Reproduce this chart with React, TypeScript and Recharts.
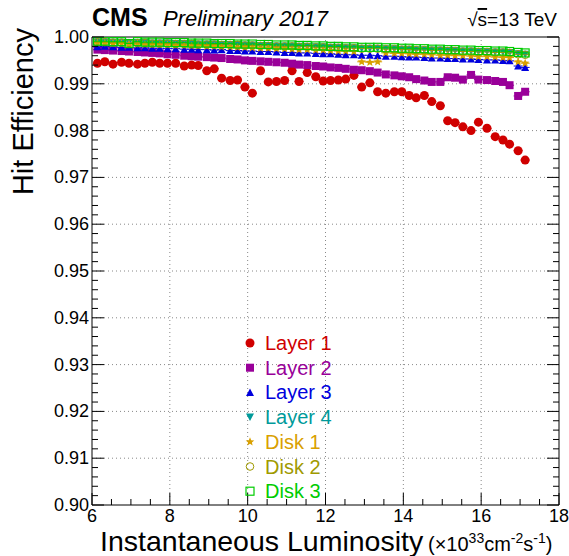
import { ScatterChart, Scatter, XAxis, YAxis, ReferenceLine } from 'recharts'

// luminosity bins (x 10^33 cm^-2 s^-1)
const lumi = [
  6.14, 6.33, 6.54, 6.76, 6.95, 7.17, 7.36, 7.55, 7.74, 7.94,
  8.15, 8.37, 8.56, 8.73, 8.95, 9.14, 9.33, 9.55, 9.74, 9.93,
  10.12, 10.33, 10.53, 10.74, 10.95, 11.14, 11.32, 11.53, 11.75, 11.94,
  12.13, 12.33, 12.52, 12.73, 12.93, 13.14, 13.34, 13.55, 13.77, 13.96,
  14.15, 14.33, 14.54, 14.73, 14.95, 15.14, 15.33, 15.53, 15.74, 15.93,
  16.15, 16.36, 16.56, 16.73, 16.95, 17.13,
]

const layer1 = [
  0.9944, 0.9947, 0.9942, 0.9946, 0.9944, 0.9942, 0.9944, 0.9946, 0.9944, 0.9944,
  0.9944, 0.9938, 0.9940, 0.9939, 0.9928, 0.9932, 0.9912, 0.9907, 0.9908, 0.9893,
  0.9880, 0.9928, 0.9904, 0.9905, 0.9907, 0.9928, 0.9905, 0.9924, 0.9915, 0.9906,
  0.9907, 0.9908, 0.9910, 0.9918, 0.9893, 0.9902, 0.9883, 0.9880, 0.9883, 0.9883,
  0.9875, 0.9870, 0.9875, 0.9862, 0.9853, 0.9821, 0.9817, 0.9808, 0.9800, 0.9818,
  0.9805, 0.9787, 0.9780, 0.9771, 0.9757, 0.9737,
]

const layer2 = [
  0.9973, 0.9972, 0.9971, 0.9970, 0.9969, 0.9968, 0.9967, 0.9966, 0.9965, 0.9963,
  0.9962, 0.9960, 0.9959, 0.9958, 0.9957, 0.9956, 0.9955, 0.9953, 0.9952, 0.9950,
  0.9949, 0.9948, 0.9947, 0.9946, 0.9945, 0.9943, 0.9941, 0.9940, 0.9938, 0.9937,
  0.9935, 0.9934, 0.9932, 0.9930, 0.9929, 0.9927, 0.9924, 0.9920, 0.9918, 0.9916,
  0.9914, 0.9910, 0.9907, 0.9904, 0.9904, 0.9914, 0.9913, 0.9909, 0.9919, 0.9909,
  0.9908, 0.9906, 0.9904, 0.9897, 0.9874, 0.9883,
]

const layer3 = [
  0.9979, 0.9980, 0.9979, 0.9978, 0.9978, 0.9977, 0.9977, 0.9976, 0.9976, 0.9975,
  0.9975, 0.9974, 0.9974, 0.9973, 0.9973, 0.9972, 0.9973, 0.9971, 0.9971, 0.9970,
  0.9970, 0.9969, 0.9969, 0.9968, 0.9967, 0.9967, 0.9966, 0.9966, 0.9965, 0.9964,
  0.9964, 0.9963, 0.9962, 0.9962, 0.9961, 0.9961, 0.9960, 0.9959, 0.9959, 0.9958,
  0.9957, 0.9957, 0.9956, 0.9955, 0.9955, 0.9954, 0.9954, 0.9953, 0.9953, 0.9952,
  0.9951, 0.9951, 0.9950, 0.9949, 0.9938, 0.9935,
]

const layer4 = [
  0.9990, 0.9990, 0.9989, 0.9989, 0.9988, 0.9988, 0.9988, 0.9987, 0.9987, 0.9987,
  0.9986, 0.9986, 0.9986, 0.9985, 0.9985, 0.9985, 0.9984, 0.9984, 0.9984, 0.9983,
  0.9983, 0.9982, 0.9982, 0.9981, 0.9981, 0.9981, 0.9980, 0.9980, 0.9979, 0.9979,
  0.9978, 0.9978, 0.9977, 0.9977, 0.9976, 0.9976, 0.9976, 0.9975, 0.9975, 0.9974,
  0.9974, 0.9973, 0.9973, 0.9972, 0.9972, 0.9971, 0.9971, 0.9970, 0.9970, 0.9969,
  0.9969, 0.9968, 0.9968, 0.9967, 0.9964, 0.9963,
]

const disk1 = [
  0.9987, 0.9987, 0.9986, 0.9986, 0.9985, 0.9985, 0.9984, 0.9984, 0.9983, 0.9983,
  0.9982, 0.9982, 0.9981, 0.9981, 0.9980, 0.9980, 0.9979, 0.9979, 0.9978, 0.9978,
  0.9977, 0.9976, 0.9976, 0.9975, 0.9975, 0.9974, 0.9973, 0.9973, 0.9972, 0.9972,
  0.9971, 0.9970, 0.9970, 0.9969, 0.9947, 0.9946, 0.9947, 0.9966, 0.9965, 0.9965,
  0.9964, 0.9963, 0.9963, 0.9962, 0.9961, 0.9961, 0.9960, 0.9960, 0.9959, 0.9958,
  0.9958, 0.9957, 0.9956, 0.9956, 0.9947, 0.9944,
]

const disk2 = [
  0.9989, 0.9989, 0.9988, 0.9988, 0.9987, 0.9987, 0.9987, 0.9986, 0.9986, 0.9986,
  0.9985, 0.9985, 0.9985, 0.9984, 0.9984, 0.9984, 0.9983, 0.9983, 0.9983, 0.9982,
  0.9982, 0.9981, 0.9981, 0.9980, 0.9980, 0.9980, 0.9979, 0.9979, 0.9978, 0.9978,
  0.9977, 0.9977, 0.9976, 0.9976, 0.9975, 0.9975, 0.9975, 0.9974, 0.9974, 0.9973,
  0.9973, 0.9972, 0.9972, 0.9971, 0.9971, 0.9970, 0.9970, 0.9969, 0.9969, 0.9968,
  0.9968, 0.9967, 0.9967, 0.9966, 0.9963, 0.9962,
]

const disk3 = [
  0.9991, 0.9991, 0.9990, 0.9990, 0.9986, 0.9990, 0.9989, 0.9989, 0.9989, 0.9988,
  0.9988, 0.9988, 0.9987, 0.9987, 0.9987, 0.9986, 0.9986, 0.9986, 0.9985, 0.9985,
  0.9985, 0.9984, 0.9984, 0.9983, 0.9983, 0.9983, 0.9982, 0.9982, 0.9981, 0.9981,
  0.9980, 0.9980, 0.9979, 0.9979, 0.9978, 0.9978, 0.9978, 0.9977, 0.9977, 0.9976,
  0.9976, 0.9975, 0.9975, 0.9974, 0.9974, 0.9973, 0.9973, 0.9972, 0.9972, 0.9971,
  0.9971, 0.9970, 0.9970, 0.9969, 0.9967, 0.9966,
]

const seriesNames = ['Layer 1', 'Layer 2', 'Layer 3', 'Layer 4', 'Disk 1', 'Disk 2', 'Disk 3']

const xMajor = [6, 8, 10, 12, 14, 16, 18]
const yMajor = [0.9, 0.91, 0.92, 0.93, 0.94, 0.95, 0.96, 0.97, 0.98, 0.99, 1.0]

// minor ticks: 4 per x major interval, 5 per y major interval
const xTicks: number[] = []
xMajor.forEach((v, i) => {
  if (i === 0) { xTicks.push(v); return }
  const p = xMajor[i - 1]
  for (let k = 1; k <= 4; k++) xTicks.push(p + ((v - p) * k) / 4)
})
const yTicks: number[] = []
yMajor.forEach((v, i) => {
  if (i === 0) { yTicks.push(v); return }
  const p = yMajor[i - 1]
  for (let k = 1; k <= 5; k++) yTicks.push(p + ((v - p) * k) / 5)
})

const isMajor = (v: number, list: number[]) => list.some((m) => Math.abs(m - v) < 1e-6)

const series = [
  { name: seriesNames[0], values: layer1, color: '#d00000', kind: 'circle' },
  { name: seriesNames[1], values: layer2, color: '#990099', kind: 'square' },
  { name: seriesNames[2], values: layer3, color: '#0000dd', kind: 'tri' },
  { name: seriesNames[3], values: layer4, color: '#009a9a', kind: 'triDown' },
  { name: seriesNames[4], values: disk1, color: '#d9a000', kind: 'star' },
  { name: seriesNames[5], values: disk2, color: '#a09a00', kind: 'openCircle' },
  { name: seriesNames[6], values: disk3, color: '#00cc00', kind: 'openSquare' },
]

const FONT = '"Liberation Sans", Arial, Helvetica, sans-serif'

function Marker({ kind, cx, cy, color, bar = true }: any) {
  if (cx == null || cy == null) return null
  const err = bar ? <line x1={cx - 4.5} x2={cx + 4.5} y1={cy} y2={cy} stroke={color} strokeWidth={1} /> : null
  switch (kind) {
    case 'circle':
      return <g>{err}<circle cx={cx} cy={cy} r={4.5} fill={color} /></g>
    case 'square':
      return <g>{err}<rect x={cx - 4} y={cy - 4} width={8} height={8} fill={color} /></g>
    case 'tri':
      return <g>{err}<path d={`M${cx},${cy - 4}L${cx + 4},${cy + 3.5}L${cx - 4},${cy + 3.5}Z`} fill={color} /></g>
    case 'triDown':
      return <g>{err}<path d={`M${cx},${cy + 4}L${cx + 4},${cy - 3.5}L${cx - 4},${cy - 3.5}Z`} fill={color} /></g>
    case 'star': {
      const pts: string[] = []
      for (let i = 0; i < 10; i++) {
        const r = i % 2 === 0 ? 4.5 : 2
        const a = -Math.PI / 2 + (i * Math.PI) / 5
        pts.push(`${cx + r * Math.cos(a)},${cy + r * Math.sin(a)}`)
      }
      return <g>{err}<polygon points={pts.join(' ')} fill={color} /></g>
    }
    case 'openCircle':
      return <g>{err}<circle cx={cx} cy={cy} r={3.8} fill="none" stroke={color} strokeWidth={1} /></g>
    case 'openSquare':
      return <g>{err}<rect x={cx - 4} y={cy - 4} width={8} height={8} fill="none" stroke={color} strokeWidth={1.2} /></g>
    default:
      return null
  }
}

const BottomTick = ({ x, y, payload }: any) => {
  const major = isMajor(payload.value, xMajor)
  return (
    <g>
      <line x1={x} x2={x} y1={y} y2={y - (major ? 12 : 6)} stroke="#000" />
      {major && (
        <text x={x} y={y + 17} textAnchor="middle" fontSize={18} fontFamily={FONT} fill="#000">
          {payload.value}
        </text>
      )}
    </g>
  )
}

const TopTick = ({ x, y, payload }: any) => {
  const major = isMajor(payload.value, xMajor)
  return <line x1={x} x2={x} y1={y} y2={y + (major ? 12 : 6)} stroke="#000" />
}

const LeftTick = ({ x, y, payload }: any) => {
  const major = isMajor(payload.value, yMajor)
  return (
    <g>
      <line x1={x} x2={x + (major ? 12 : 6)} y1={y} y2={y} stroke="#000" />
      {major && (
        <text x={x - 3} y={y + 6} textAnchor="end" fontSize={18} fontFamily={FONT} fill="#000">
          {payload.value.toFixed(2)}
        </text>
      )}
    </g>
  )
}

const RightTick = ({ x, y, payload }: any) => {
  const major = isMajor(payload.value, yMajor)
  return <line x1={x} x2={x - (major ? 12 : 6)} y1={y} y2={y} stroke="#000" />
}

export default function App() {
  return (
    <div style={{ position: 'absolute', left: 0, top: 0, width: 569, height: 556, background: '#fff', fontFamily: FONT }}>
      <ScatterChart width={569} height={556} margin={{ top: 36, right: 9, bottom: 50, left: 91 }}>
        <XAxis
          dataKey="x" type="number" domain={[6, 18]} ticks={xTicks} interval={0}
          allowDataOverflow height={1} tickSize={0} tickMargin={0}
          axisLine={{ stroke: '#000' }} tickLine={false} tick={<BottomTick />}
        />
        <XAxis
          xAxisId="top" orientation="top" type="number" domain={[6, 18]} ticks={xTicks} interval={0}
          allowDataOverflow height={1} tickSize={0} tickMargin={0}
          axisLine={{ stroke: '#000' }} tickLine={false} tick={<TopTick />}
        />
        <YAxis
          dataKey="y" type="number" domain={[0.9, 1.0]} ticks={yTicks} interval={0}
          allowDataOverflow width={1} tickSize={0} tickMargin={0}
          axisLine={{ stroke: '#000' }} tickLine={false} tick={<LeftTick />}
        />
        <YAxis
          yAxisId="right" orientation="right" type="number" domain={[0.9, 1.0]} ticks={yTicks} interval={0}
          allowDataOverflow width={1} tickSize={0} tickMargin={0}
          axisLine={{ stroke: '#000' }} tickLine={false} tick={<RightTick />}
        />
        {xMajor.slice(1, -1).map((v) => (
          <ReferenceLine key={`gx${v}`} x={v} stroke="#888" strokeDasharray="1 3" />
        ))}
        {yMajor.slice(1, -1).map((v) => (
          <ReferenceLine key={`gy${v}`} y={v} stroke="#888" strokeDasharray="1 3" />
        ))}
        {series.map((s) => (
          <Scatter
            key={s.name}
            name={s.name}
            data={lumi.map((x, i) => ({ x, y: s.values[i] }))}
            isAnimationActive={false}
            shape={(p: any) => <Marker kind={s.kind} cx={p.cx} cy={p.cy} color={s.color} />}
          />
        ))}
      </ScatterChart>

      <svg width={569} height={556} style={{ position: 'absolute', left: 0, top: 0, pointerEvents: 'none' }} fontFamily={FONT}>
        <text x={92} y={26} fontSize={25} fontWeight="bold">CMS</text>
        <text x={163} y={26} fontSize={22} fontStyle="italic">Preliminary 2017</text>
        <text x={557} y={26} fontSize={19} textAnchor="end">
          √<tspan style={{ textDecoration: 'overline' }}>s</tspan>=13 TeV
        </text>
        <text transform="translate(33,28) rotate(-90)" textAnchor="end" fontSize={29}>Hit Efficiency</text>
        <text x={100} y={551} fontSize={28.5}>Instantaneous Luminosity</text>
        <text x={428} y={551} fontSize={20}>
          (×10<tspan fontSize={14} dy={-8}>33</tspan>
          <tspan dy={8}>cm</tspan>
          <tspan fontSize={14} dy={-8}>-2</tspan>
          <tspan dy={8}>s</tspan>
          <tspan fontSize={14} dy={-8}>-1</tspan>
          <tspan dy={8}>)</tspan>
        </text>
        {series.map((s, i) => (
          <g key={s.name}>
            <Marker kind={s.kind} cx={250} cy={343 + i * 24.7} color={s.color} bar={false} />
            <text x={265} y={350 + i * 24.7} fontSize={20} fill={s.color}>{s.name}</text>
          </g>
        ))}
      </svg>
    </div>
  )
}
